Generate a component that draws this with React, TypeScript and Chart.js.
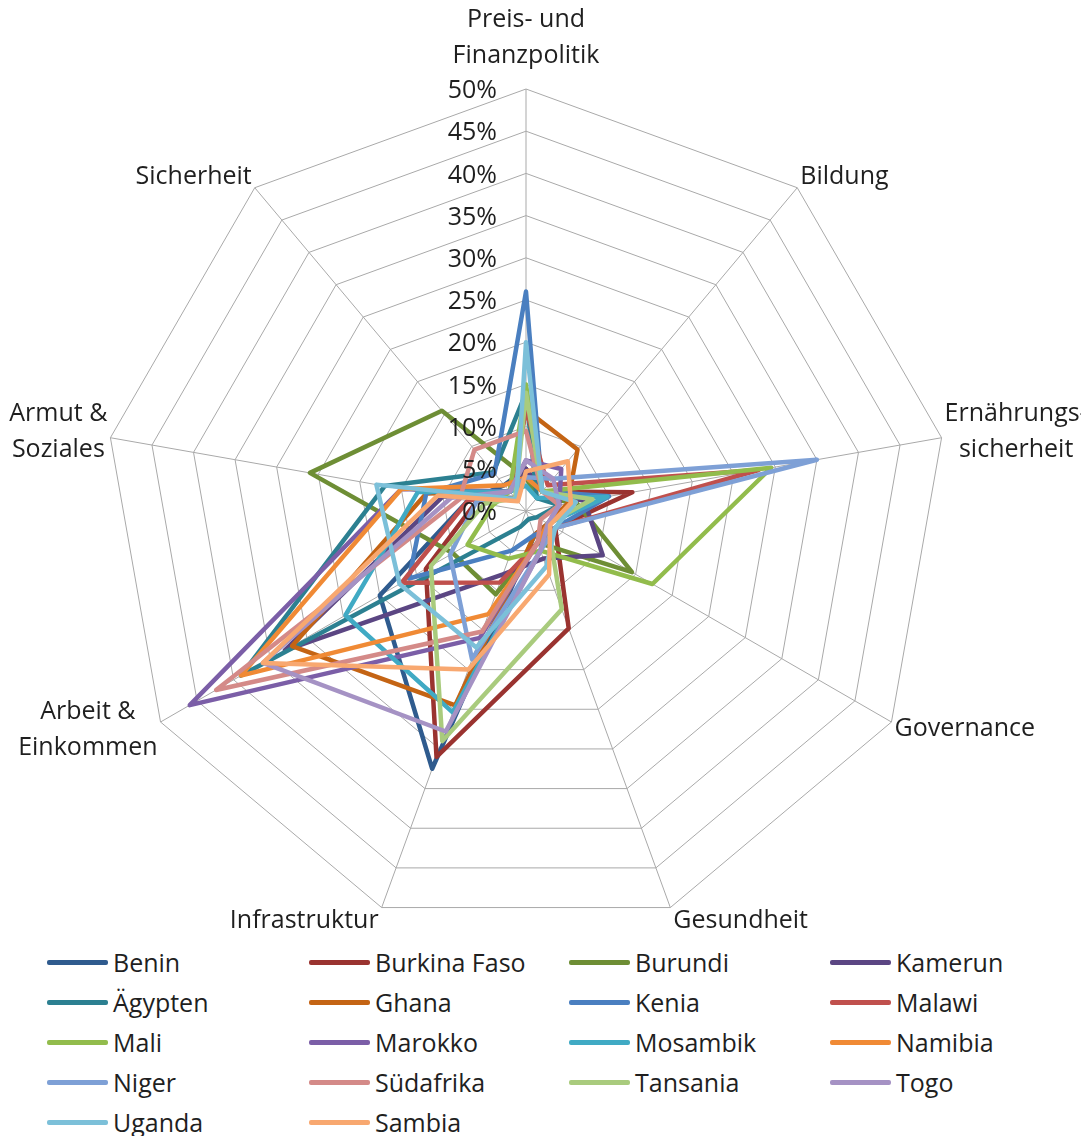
import React, { useEffect, useRef } from "react";
import { Chart, registerables } from "chart.js";

Chart.register(...registerables);

// ---- data ----
const axisLabels: string[][] = [
  ["Preis- und", "Finanzpolitik"],
  ["Bildung"],
  ["Ernährungs-", "sicherheit"],
  ["Governance"],
  ["Gesundheit"],
  ["Infrastruktur"],
  ["Arbeit &", "Einkommen"],
  ["Armut &", "Soziales"],
  ["Sicherheit"],
];
const tickValues = [0, 5, 10, 15, 20, 25, 30, 35, 40, 45, 50];

const countries = [
  "Benin", "Burkina Faso", "Burundi", "Kamerun",
  "Ägypten", "Ghana", "Kenia", "Malawi",
  "Mali", "Marokko", "Mosambik", "Namibia",
  "Niger", "Südafrika", "Tansania", "Togo",
  "Uganda", "Sambia",
];

// order: Preis, Bildung, Ernährung, Governance, Gesundheit, Infrastruktur, Arbeit, Armut, Sicherheit
const benin = [5, 2, 6, 3, 3, 32.5, 20, 7, 4];
const burkinaFaso = [5, 3, 12.8, 4, 14.8, 31, 13.7, 6, 3];
const burundi = [4, 2, 6, 14.5, 4, 10.5, 10, 26, 15.5];
const kamerun = [5, 3, 7, 10.5, 6, 8, 33, 10, 2];
const aegypten = [14, 2, 4, 1.5, 1, 2, 39, 17, 6];
const ghana = [12, 9.5, 5, 3, 3, 24.5, 32, 12, 3];
const kenia = [26, 3, 10, 4, 3, 5, 16, 12, 5.8];
const malawi = [12, 4, 28, 4, 4, 9, 17, 7, 3];
const mali = [15, 3, 29.5, 17.3, 5, 6, 8, 4, 3];
const marokko = [6, 6.5, 4, 3, 4, 16, 46, 15, 3];
const mosambik = [3, 2, 9.8, 3, 5, 25.4, 24.7, 13, 3];
const namibia = [4, 3, 6, 3, 4, 13, 39, 15, 4];
const niger = [4, 5, 35, 4, 5, 18.7, 10.4, 6, 3];
const suedafrika = [9.5, 3, 4, 2, 4, 15.2, 42.4, 8, 9.5];
const tansania = [14, 3, 8, 3, 12.4, 29, 13, 5, 2];
const togo = [6, 5, 4, 3, 5, 27.8, 36, 9, 3];
const uganda = [20, 3, 6, 4, 7, 17.2, 17.3, 18, 1.8];
const sambia = [4.7, 7.7, 5.4, 3.3, 8, 20, 36, 10.6, 1.5];

const seriesValues = [
  benin, burkinaFaso, burundi, kamerun, aegypten, ghana, kenia, malawi, mali,
  marokko, mosambik, namibia, niger, suedafrika, tansania, togo, uganda, sambia,
];

const colors = [
  "#2F5B8E", "#9A3330", "#6E8E35", "#5B4683",
  "#2C8091", "#C46414", "#4A7FC0", "#C0504D",
  "#92BC4C", "#7B5EA7", "#40AAC4", "#F08A35",
  "#7EA0D6", "#D48A88", "#A9CB7D", "#A592C4",
  "#7CC0D9", "#F8A870",
];

const FONT = "'Open Sans', 'Noto Sans', sans-serif";
const FONT_SIZE = 25;
const TEXT_COLOR = "#1f1f1f";

const labelPlugin = {
  id: "excelLabels",
  afterDatasetsDraw(chart: any) {
    const scale = chart.scales.r;
    const ctx = chart.ctx;
    ctx.save();
    ctx.font = `${FONT_SIZE}px ${FONT}`;
    ctx.fillStyle = TEXT_COLOR;
    // tick labels, left of the vertical axis
    ctx.textAlign = "right";
    ctx.textBaseline = "middle";
    tickValues.forEach((v) => {
      const d = scale.getDistanceFromCenterForValue(v);
      ctx.fillText(`${v}%`, scale.xCenter - 29, scale.yCenter - d + 2);
    });
    // axis (point) labels
    const lineH = 36;
    axisLabels.forEach((lines, i) => {
      const p = scale.getPointPosition(i, scale.drawingArea);
      const th = p.angle + Math.PI / 2;
      const s = Math.sin(th);
      const c = Math.cos(th);
      const w = Math.max(...lines.map((l) => ctx.measureText(l).width));
      const h = (lines.length - 1) * lineH + FONT_SIZE;
      let cx: number;
      if (Math.abs(s) < 0.1) cx = p.x;
      else if (s > 0) cx = p.x + 3 + w / 2;
      else cx = p.x - 3 - w / 2;
      let cy = p.y - c * (h / 2 + 2);
      if (Math.abs(s) < 0.1 && c > 0) cy -= 19;
      if (c < 0 && lines.length > 1) cy -= 8;
      ctx.textAlign = "center";
      lines.forEach((l, k) => {
        ctx.fillText(l, cx, cy - ((lines.length - 1) * lineH) / 2 + k * lineH);
      });
    });
    ctx.restore();
  },
};

export default function App() {
  const ref = useRef<HTMLCanvasElement | null>(null);

  useEffect(() => {
    if (!ref.current) return;
    const chart = new Chart(ref.current, {
      type: "radar",
      data: {
        labels: axisLabels.map((l) => l.join(" ")),
        datasets: countries.map((name, i) => ({
          label: name,
          data: seriesValues[i],
          borderColor: colors[i],
          backgroundColor: colors[i],
          borderWidth: 4.5,
          borderJoinStyle: "round" as const,
          pointRadius: 0,
          fill: false,
          order: countries.length - 1 - i,
        })),
      },
      options: {
        animation: false,
        responsive: false,
        devicePixelRatio: 1,
        layout: { padding: { left: 104, right: 141, top: 89, bottom: 9 } },
        plugins: {
          legend: { display: false },
          tooltip: { enabled: false },
        },
        scales: {
          r: {
            min: 0,
            max: 50,
            beginAtZero: true,
            ticks: { stepSize: 5, display: false },
            grid: { color: "#a9a9a9", lineWidth: 1 },
            angleLines: { color: "#a9a9a9", lineWidth: 1 },
            pointLabels: { display: false },
          },
        },
      },
      plugins: [labelPlugin],
    });
    return () => chart.destroy();
  }, []);

  return (
    <div style={{ position: "relative", width: 1073, height: 1128 }}>
      <canvas
        ref={ref}
        width={1089}
        height={942}
        style={{ position: "absolute", left: -8, top: -8 }}
      />
      {countries.map((name, i) => {
        const col = i % 4;
        const row = Math.floor(i / 4);
        const lefts = [39, 301, 561, 822];
        return (
          <div
            key={name}
            style={{
              position: "absolute",
              left: lefts[col],
              top: 934 + row * 40,
              height: 40,
              display: "flex",
              alignItems: "center",
              fontFamily: FONT,
              fontSize: FONT_SIZE,
              color: TEXT_COLOR,
              whiteSpace: "nowrap",
            }}
          >
            <span
              style={{
                display: "inline-block",
                width: 61,
                height: 5,
                borderRadius: 2,
                background: colors[i],
                marginRight: 5,
              }}
            />
            {name}
          </div>
        );
      })}
    </div>
  );
}
